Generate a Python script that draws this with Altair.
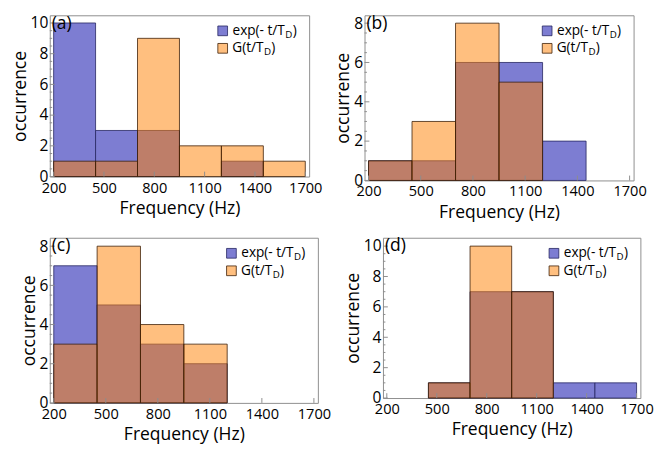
import altair as alt
import pandas as pd

# ---------------- data ----------------
bin_edges = [200, 450, 700, 950, 1200, 1450, 1700]
x_ticks = [200, 500, 800, 1100, 1400, 1700]

exp_a = [10, 3, 3, 0, 1, 0]
g_a = [1, 1, 9, 2, 2, 1]
exp_b = [1, 1, 6, 6, 2, 0]
g_b = [1, 3, 8, 5, 0, 0]
exp_c = [7, 5, 3, 2, 0, 0]
g_c = [3, 8, 4, 3, 0, 0]
exp_d = [0, 1, 7, 7, 1, 1]
g_d = [0, 1, 10, 7, 0, 0]

panel_letters = ["(a)", "(b)", "(c)", "(d)"]
legend_main = ["exp(- t/T", "G(t/T"]
legend_sub = ["D", "D"]
legend_close = [")", ")"]

# ---------------- style ----------------
FONT = "Open Sans"
BLUE = "#7d7dd2"
BLUE_EDGE = "#23235e"
ORANGE = "#ff8000"
ORANGE_EDGE = "#3a1d05"
FRAME = "#8c8c8c"


def bars_df(vals):
    rows = []
    for i, v in enumerate(vals):
        if v > 0:
            rows.append({"start": bin_edges[i], "end": bin_edges[i + 1], "count": v})
    return pd.DataFrame(rows)


def panel(letter, exp_vals, g_vals, W, H, ymax, ytop):
    xs = alt.Scale(domain=[177, 1723], nice=False, zero=False)
    ys = alt.Scale(domain=[0, ymax], nice=False, zero=True)
    majors = list(range(0, ytop + 1, 2))
    minors = [m / 2 for m in range(0, ytop * 2 + 1) if (m / 2) % 2 != 0]

    xaxis = alt.Axis(values=x_ticks, title="Frequency (Hz)", grid=False, domain=False,
                     ticks=False, labelFontSize=15, labelPadding=4, titleFontSize=18,
                     titlePadding=5, labelFlush=False, format="d")
    yaxis = alt.Axis(values=majors, title="occurrence", grid=False, domain=False,
                     ticks=False, labelFontSize=16, labelPadding=2, titleFontSize=18,
                     titlePadding=1, labelFlush=False, format="d")

    blue = alt.Chart(bars_df(exp_vals)).mark_rect(
        fill=BLUE, stroke=BLUE_EDGE, strokeWidth=1, strokeOpacity=0.8
    ).encode(
        x=alt.X("start:Q", scale=xs, axis=xaxis),
        x2="end:Q",
        y=alt.Y("count:Q", scale=ys, axis=yaxis),
        y2=alt.datum(0),
    )
    orange = alt.Chart(bars_df(g_vals)).mark_rect(
        fill=ORANGE, fillOpacity=0.5, stroke=ORANGE_EDGE, strokeWidth=1, strokeOpacity=0.8
    ).encode(
        x=alt.X("start:Q", scale=xs, axis=xaxis),
        x2="end:Q",
        y=alt.Y("count:Q", scale=ys, axis=yaxis),
        y2=alt.datum(0),
    )

    ymaj = alt.Chart(pd.DataFrame({"v": majors})).mark_rule(color=FRAME, strokeWidth=1).encode(
        y=alt.Y("v:Q", scale=ys, axis=yaxis), x=alt.value(0), x2=alt.value(5))
    ymin = alt.Chart(pd.DataFrame({"v": minors})).mark_rule(color=FRAME, strokeWidth=1).encode(
        y=alt.Y("v:Q", scale=ys, axis=yaxis), x=alt.value(0), x2=alt.value(2.5))
    xmaj = alt.Chart(pd.DataFrame({"v": x_ticks})).mark_rule(color=FRAME, strokeWidth=1).encode(
        x=alt.X("v:Q", scale=xs, axis=xaxis), y=alt.value(H), y2=alt.value(H - 5))

    lab = alt.Chart(pd.DataFrame({"t": [letter]})).mark_text(
        align="left", baseline="top", fontSize=18, font=FONT, color="black"
    ).encode(text="t:N", x=alt.value(2), y=alt.value(0))

    layers = [blue, orange, ymaj, ymin, xmaj, lab]

    # legend (manual, with subscript)
    sw_colors = [(BLUE, 1.0, BLUE_EDGE), (ORANGE, 0.5, ORANGE_EDGE)]
    x_start = W - 79
    widths = [54, 32]
    for i in range(2):
        yc = 16 + 18 * i
        fill, op, edge = sw_colors[i]
        sw = alt.Chart(pd.DataFrame({"k": [i]})).mark_rect(
            fill=fill, fillOpacity=op, stroke=edge, strokeWidth=1, strokeOpacity=0.8
        ).encode(x=alt.value(W - 94), x2=alt.value(W - 84),
                 y=alt.value(yc - 5), y2=alt.value(yc + 5))
        x1 = x_start + widths[i]
        t_main = alt.Chart(pd.DataFrame({"t": [legend_main[i]]})).mark_text(
            align="right", baseline="middle", fontSize=14, font=FONT, color="black"
        ).encode(text="t:N", x=alt.value(x1), y=alt.value(yc))
        t_sub = alt.Chart(pd.DataFrame({"t": [legend_sub[i]]})).mark_text(
            align="left", baseline="middle", fontSize=10, font=FONT, color="black"
        ).encode(text="t:N", x=alt.value(x1 + 0.5), y=alt.value(yc + 4))
        t_cl = alt.Chart(pd.DataFrame({"t": [legend_close[i]]})).mark_text(
            align="left", baseline="middle", fontSize=14, font=FONT, color="black"
        ).encode(text="t:N", x=alt.value(x1 + 8), y=alt.value(yc))
        layers += [sw, t_main, t_sub, t_cl]

    return alt.layer(*layers).properties(width=W, height=H)


pa = panel(panel_letters[0], exp_a, g_a, 267, 166, 10.5, 10)
pb = panel(panel_letters[1], exp_b, g_b, 277, 170, 8.4, 8)
pc = panel(panel_letters[2], exp_c, g_c, 276, 170, 8.43, 8)
pd_ = panel(panel_letters[3], exp_d, g_d, 265, 165, 10.55, 10)

chart = alt.vconcat(
    alt.hconcat(pa, pb, spacing=12),
    alt.hconcat(pc, pd_, spacing=13),
    spacing=15,
).properties(
    padding={"left": 3, "top": 0, "right": 0, "bottom": 0}
).configure_view(
    stroke=FRAME, strokeWidth=1
).configure_axis(
    labelFont=FONT, titleFont=FONT, labelColor="black", titleColor="black",
    titleFontWeight="normal"
).configure_text(font=FONT)

chart.save("out.html", embed_options={"renderer": "svg", "actions": False})
